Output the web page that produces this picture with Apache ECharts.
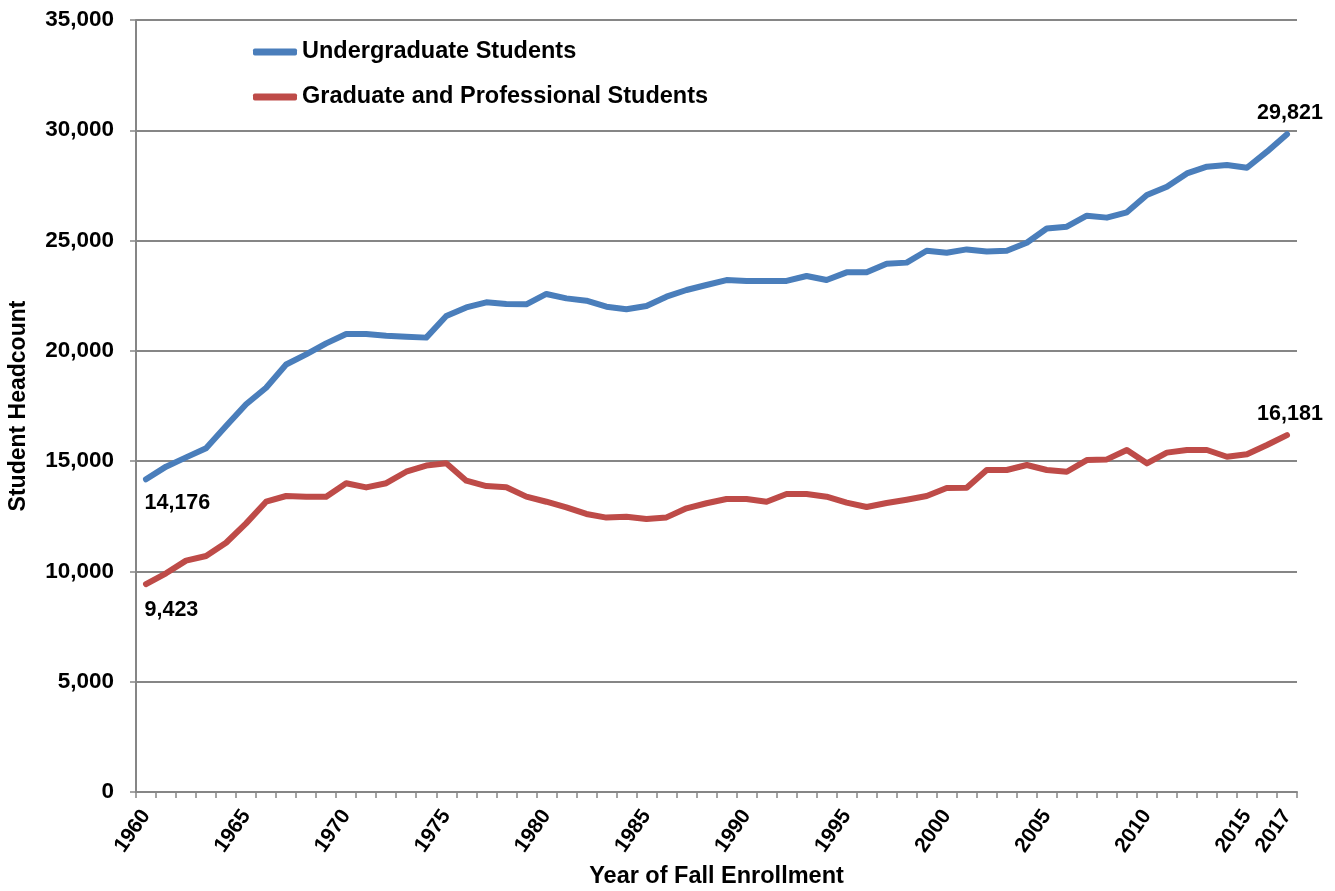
<!DOCTYPE html>
<html>
<head>
<meta charset="utf-8">
<script src="https://cdn.jsdelivr.net/npm/echarts@6/dist/echarts.min.js"></script>
<style>
html,body{margin:0;padding:0;background:#fff;}
#chart{width:1335px;height:891px;}
</style>
</head>
<body>
<div id="chart"></div>
<script>
const years = ['1960','1961','1962','1963','1964','1965','1966','1967','1968','1969',
'1970','1971','1972','1973','1974','1975','1976','1977','1978','1979',
'1980','1981','1982','1983','1984','1985','1986','1987','1988','1989',
'1990','1991','1992','1993','1994','1995','1996','1997','1998','1999',
'2000','2001','2002','2003','2004','2005','2006','2007','2008','2009',
'2010','2011','2012','2013','2014','2015','2016','2017'];

const undergrad = [14176,14750,15170,15580,16590,17580,18330,19380,19840,20340,
20765,20765,20690,20640,20600,21580,21970,22200,22125,22110,
22580,22380,22275,22000,21885,22035,22455,22760,22985,23210,
23170,23170,23170,23395,23210,23560,23560,23950,24000,24540,
24450,24600,24500,24540,24900,25550,25630,26130,26040,26280,
27065,27440,28045,28350,28425,28300,29030,29821];

const graduate = [9423,9915,10490,10700,11300,12180,13160,13420,13390,13390,
14000,13810,14000,14520,14800,14900,14115,13870,13820,13390,
13160,12905,12605,12440,12480,12375,12450,12860,13090,13285,
13285,13160,13510,13510,13390,13120,12920,13100,13250,13420,
13780,13790,14600,14600,14825,14600,14520,15050,15080,15505,
14900,15385,15505,15505,15200,15310,15730,16181];

const seriesNames = ['Undergraduate Students','Graduate and Professional Students'];
const yTicks = {min:0, max:35000, interval:5000};

const FONT = '"Liberation Sans", Arial, sans-serif';
const fmt = v => Number(v).toLocaleString('en-US');
const last = years.length - 1;

function endPoints(arr, firstOffset){
  return {
    symbol:'circle', symbolSize:1, silent:true,
    itemStyle:{color:'rgba(0,0,0,0)'},
    label:{show:true, formatter:p=>fmt(p.value), color:'#000', fontFamily:FONT, fontWeight:'bold', fontSize:21.5},
    data:[
      {coord:[years[0], arr[0]], value:arr[0],
       label:{show:true, position:[-1, firstOffset], align:'left', verticalAlign:'top'}},
      {coord:[years[last], arr[last]], value:arr[last],
       label:{show:true, position:'top', distance:10, offset:[3,0]}}
    ]
  };
}

const chart = echarts.init(document.getElementById('chart'));
chart.setOption({
  animation:false,
  backgroundColor:'#fff',
  grid:{left:136, right:38, top:20, bottom:99, containLabel:false, outerBoundsMode:'none'},
  legend:{
    orient:'vertical', left:248, top:35, itemWidth:44, itemHeight:7, itemGap:21,
    icon:'roundRect',
    textStyle:{fontFamily:FONT, fontWeight:'bold', fontSize:23.5, color:'#000', lineHeight:24},
    data:seriesNames
  },
  xAxis:{
    type:'category', data:years, boundaryGap:true,
    name:'Year of Fall Enrollment', nameLocation:'middle', nameGap:73,
    nameTextStyle:{fontFamily:FONT, fontWeight:'bold', fontSize:23.5, color:'#000'},
    axisLine:{lineStyle:{color:'#868686', width:2}},
    axisTick:{show:true, interval:0, length:6, lineStyle:{color:'#868686', width:1.5}},
    axisLabel:{
      interval:(i)=> i%5===0 || i===last,
      rotate:55, margin:20,
      fontFamily:FONT, fontWeight:'bold', fontSize:21, color:'#000'
    },
    splitLine:{show:false}
  },
  yAxis:{
    type:'value', min:yTicks.min, max:yTicks.max, interval:yTicks.interval,
    name:'Student Headcount', nameLocation:'middle', nameGap:106, nameRotate:90,
    nameTextStyle:{fontFamily:FONT, fontWeight:'bold', fontSize:23, color:'#000'},
    axisLine:{show:true, lineStyle:{color:'#868686', width:2}},
    axisTick:{show:true, length:6, lineStyle:{color:'#868686', width:1.5}},
    axisLabel:{formatter:v=>fmt(v), margin:22, fontFamily:FONT, fontWeight:'bold', fontSize:22.5, color:'#000'},
    splitLine:{show:true, lineStyle:{color:'#868686', width:2}}
  },
  series:[
    {name:seriesNames[0], type:'line', data:undergrad, showSymbol:false, symbol:'none',
     lineStyle:{color:'#4A7EBB', width:6, cap:'round', join:'round'},
     itemStyle:{color:'#4A7EBB'},
     markPoint:endPoints(undergrad, 13)},
    {name:seriesNames[1], type:'line', data:graduate, showSymbol:false, symbol:'none',
     lineStyle:{color:'#BE4B48', width:6, cap:'round', join:'round'},
     itemStyle:{color:'#BE4B48'},
     markPoint:endPoints(graduate, 15)}
  ]
});
</script>
</body>
</html>
